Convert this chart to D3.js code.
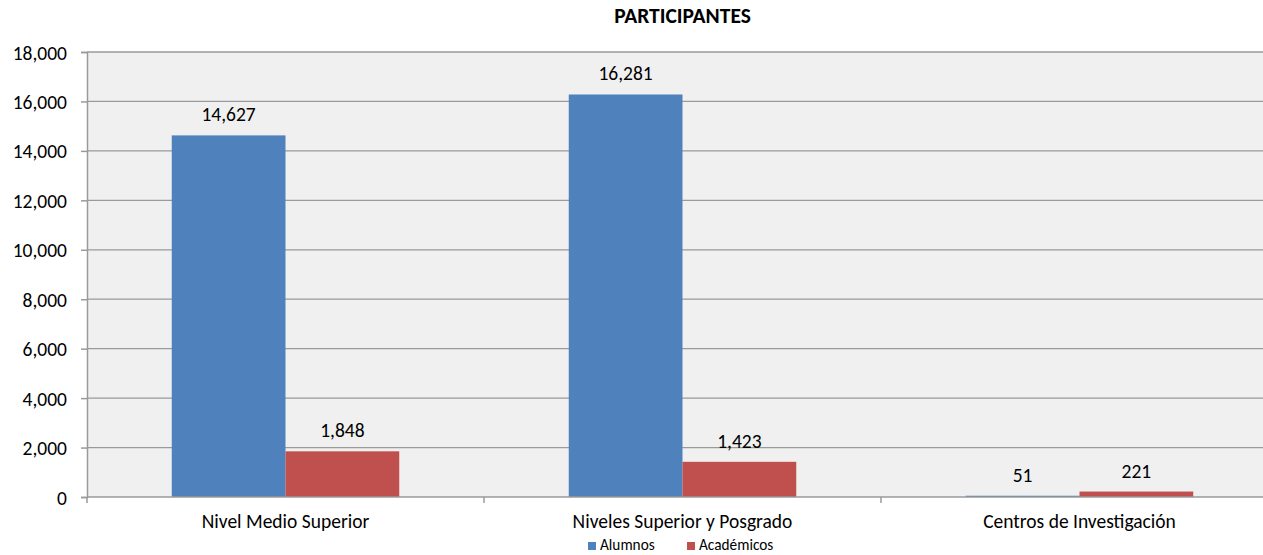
<!DOCTYPE html>
<html><head><meta charset="utf-8">
<script src="https://cdn.jsdelivr.net/npm/d3@7"></script>
<style>body{margin:0;background:#fff}svg{display:block}text{font-family:Carlito,Calibri,"Open Sans","Noto Sans",sans-serif;fill:#000}</style>
</head><body><svg id="c" width="1263" height="555"></svg>
<script>
const categories = ["Nivel Medio Superior","Niveles Superior y Posgrado","Centros de Investigación"];
const seriesNames = ["Alumnos","Académicos"];
const alumnos = [14627,16281,51];
const academicos = [1848,1423,221];
const yTicks = [0,2000,4000,6000,8000,10000,12000,14000,16000,18000];
const colors = ["#4f81bd","#c0504d"];

const svg = d3.select("#c");
const L=87, R=1278, T=52, B=497;
const x = d3.scaleBand().domain(categories).range([L,R]).paddingInner(0).paddingOuter(0);
const y = d3.scaleLinear().domain([0,18000]).range([B,T]);
const xs = d3.scaleBand().domain(seriesNames).range([0,x.bandwidth()]).paddingOuter(0.745).paddingInner(0);
svg.append("rect").attr("x",L).attr("y",T).attr("width",R-L).attr("height",B-T).attr("fill","#f0f0f0");
// gridlines
svg.append("g").selectAll("line").data(yTicks.filter(d=>d>0)).join("line")
 .attr("x1",L).attr("x2",R).attr("y1",d=>y(d)).attr("y2",d=>y(d)).attr("stroke","#9a9a9a").attr("stroke-width",1.3);
const fmt = d3.format(",");
const data = [alumnos, academicos];
const g = svg.append("g");
categories.forEach((c,i)=>{
  seriesNames.forEach((s,j)=>{
    const v = data[j][i];
    g.append("rect").attr("x",x(c)+xs(s)).attr("width",xs.bandwidth()).attr("y",y(v)).attr("height",B-y(v)).attr("fill",colors[j]);
    g.append("text").attr("x",x(c)+xs(s)+xs.bandwidth()/2).attr("y",y(v)-14).attr("text-anchor","middle").attr("font-size",19.5).text(fmt(v));
  });
});
// y axis
const yAxis = d3.axisLeft(y).tickValues(yTicks).tickFormat(fmt).tickSize(6).tickPadding(14);
const ya = svg.append("g").attr("transform",`translate(${L},0)`).call(yAxis);
ya.select(".domain").attr("stroke","#9a9a9a").attr("stroke-width",1.5);
ya.selectAll(".tick line").attr("stroke","#9a9a9a").attr("stroke-width",1.5);
ya.selectAll("text").attr("font-size",19.5).attr("font-family","Carlito,Calibri,'Open Sans','Noto Sans',sans-serif").attr("fill","#000").attr("dy","0.36em");
// x axis
const xa = svg.append("g").attr("transform",`translate(0,${B})`);
xa.append("line").attr("x1",L).attr("x2",R).attr("stroke","#9a9a9a").attr("stroke-width",1.5);
const bounds = [L, ...categories.map(c=>x(c)+x.bandwidth())];
xa.selectAll("line.t").data(bounds).join("line").attr("class","t").attr("x1",d=>d).attr("x2",d=>d).attr("y1",0).attr("y2",6).attr("stroke","#9a9a9a").attr("stroke-width",1.5);
xa.selectAll("text").data(categories).join("text").attr("x",d=>x(d)+x.bandwidth()/2).attr("y",31).attr("text-anchor","middle").attr("font-size",19.5).text(d=>d);
// title
svg.append("text").attr("x",(L+R)/2).attr("y",23).attr("text-anchor","middle").attr("font-size",21.5).attr("font-weight","bold").text("PARTICIPANTES");
// legend
const lg = svg.append("g");
const lx = [588,687];
seriesNames.forEach((s,j)=>{
  lg.append("rect").attr("x",lx[j]).attr("y",542).attr("width",8).attr("height",8).attr("fill",colors[j]);
  lg.append("text").attr("x",lx[j]+12).attr("y",550).attr("font-size",15.3).text(s);
});
</script></body></html>
